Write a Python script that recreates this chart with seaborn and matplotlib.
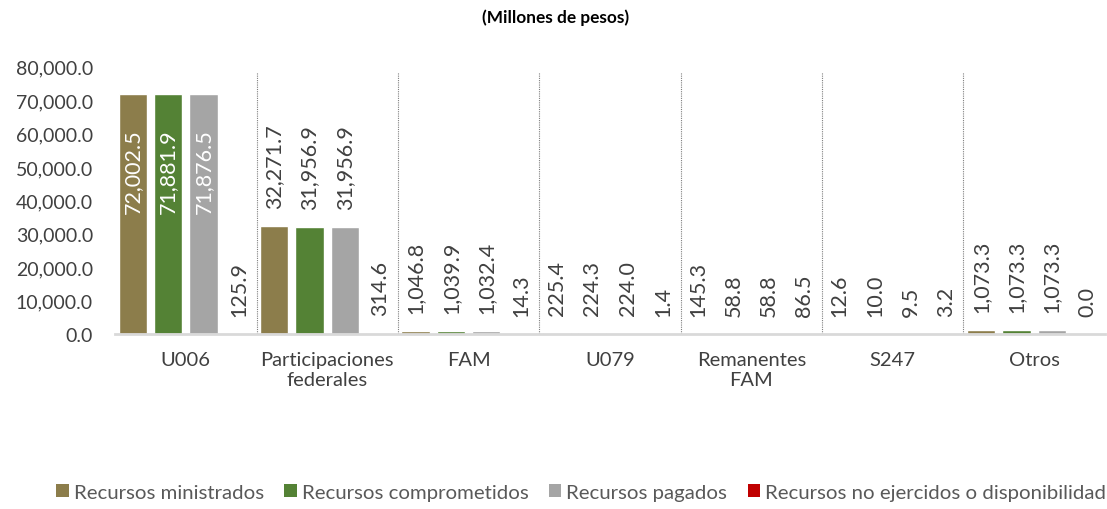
import pandas as pd
import seaborn as sns
import matplotlib.pyplot as plt
from matplotlib.patches import Patch
from matplotlib.ticker import FuncFormatter

sns.set_theme(style="white")
plt.rcParams['font.family'] = ['Lato', 'DejaVu Sans']

categorias = ["U006", "Participaciones\nfederales", "FAM", "U079",
              "Remanentes\nFAM", "S247", "Otros"]
series = ["Recursos ministrados", "Recursos comprometidos", "Recursos pagados",
          "Recursos no ejercidos o disponibilidad"]
ministrados = [72002.5, 32271.7, 1046.8, 225.4, 145.3, 12.6, 1073.3]
comprometidos = [71881.9, 31956.9, 1039.9, 224.3, 58.8, 10.0, 1073.3]
pagados = [71876.5, 31956.9, 1032.4, 224.0, 58.8, 9.5, 1073.3]
no_ejercidos = [125.9, 314.6, 14.3, 1.4, 86.5, 3.2, 0.0]
colores = ["#8C7D4B", "#548235", "#A5A5A5", "#C00000"]

valores = [ministrados, comprometidos, pagados, no_ejercidos]
df = pd.DataFrame([
    {"cat": c, "serie": s, "valor": v}
    for s, vals in zip(series, valores)
    for c, v in zip(categorias, vals)
])

fig = plt.figure(figsize=(11.07, 5.10), dpi=100)
ax = fig.add_axes([0.104, 0.343, 0.894, 0.524])

sns.barplot(data=df, x="cat", y="valor", hue="serie", order=categorias,
            hue_order=series, palette=colores, width=1.0, gap=0.2,
            saturation=1, legend=False, ax=ax, errorbar=None)

ax.set_ylim(0, 80000)
ax.set_xlim(-0.5, len(categorias) - 0.5)
ax.set_yticks(range(0, 80001, 10000))
ax.yaxis.set_major_formatter(FuncFormatter(lambda v, p: f"{v:,.1f}"))
ax.tick_params(axis="y", labelsize=14, length=0, pad=16)
ax.tick_params(axis="x", labelsize=14.5, length=0, pad=12)
ax.set_xlabel("")
ax.set_ylabel("")
for lab in ax.get_yticklabels() + ax.get_xticklabels():
    lab.set_color("#404040")

for s in ["top", "right", "left"]:
    ax.spines[s].set_visible(False)
ax.spines["bottom"].set_color("#D9D9D9")
ax.spines["bottom"].set_linewidth(2)

# separadores entre grupos
for i in range(len(categorias) - 1):
    ax.axvline(i + 0.5, ymin=0, ymax=0.98, color="#7F7F7F", lw=0.8,
               ls=(0, (1, 1)), zorder=0)

# etiquetas de datos
for cont, vals in zip(ax.containers, valores):
    for bar, v in zip(cont, vals):
        x = bar.get_x() + bar.get_width() / 2
        if v > 60000:
            ax.text(x, v * 0.68, f"{v:,.1f}", rotation=90, ha="center",
                    va="center", color="white", fontsize=15.5)
        else:
            ax.annotate(f"{v:,.1f}", (x, v), xytext=(0, 13),
                        textcoords="offset points", rotation=90,
                        ha="center", va="bottom", color="#404040",
                        fontsize=15.5)

fig.text(0.502, 0.965, "(Millones de pesos)", ha="center", va="center",
         fontsize=12.4, fontweight="bold", color="#000000")

handles = [Patch(facecolor=c, edgecolor="none") for c in colores]
fig.legend(handles, series, loc="center", bbox_to_anchor=(0.525, 0.033),
           ncol=4, frameon=False, fontsize=14.7, handlelength=0.6,
           handleheight=0.6, handletextpad=0.25, columnspacing=1.0,
           labelcolor="#595959")

plt.savefig("out.png", dpi=100)
